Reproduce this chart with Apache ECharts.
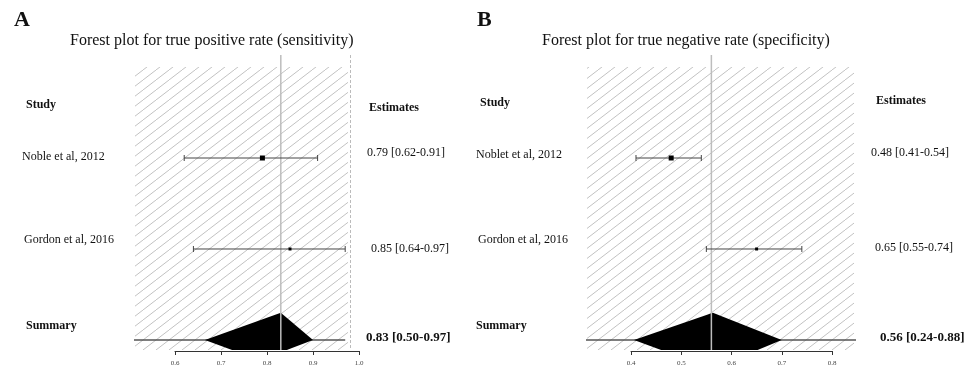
<!DOCTYPE html>
<html>
<head>
<meta charset="utf-8">
<script src="https://cdn.jsdelivr.net/npm/echarts@6/dist/echarts.min.js"></script>
<style>
  html, body { margin: 0; padding: 0; background: #fff; }
  #chart { width: 969px; height: 368px; }
</style>
</head>
<body>
<div id="chart"></div>
<script>
// panel A - true positive rate
const studiesA = ['Noble et al, 2012', 'Gordon et al, 2016'];
const estA = [0.79, 0.85];
const lowA = [0.62, 0.64];
const highA = [0.91, 0.97];
const summaryA = [0.83, 0.50, 0.97]; // est, low, high
// diamond outline: [x, row]
const diamondA = [[0.665, 3], [0.83, 2.7], [0.90, 3], [0.843, 3.11], [0.724, 3.11]];
const hatchA = [0.513, 0.976];

// panel B - true negative rate
const studiesB = ['Noblet et al, 2012', 'Gordon et al, 2016'];
const estB = [0.48, 0.65];
const lowB = [0.41, 0.55];
const highB = [0.54, 0.74];
const summaryB = [0.56, 0.24, 0.88];
const diamondB = [[0.406, 3], [0.563, 2.7], [0.70, 3], [0.652, 3.11], [0.46, 3.11]];
const hatchB = [0.3125, 0.8438];

const SERIF = '"Liberation Serif", "DejaVu Serif", serif';
const pointSize = [5, 3];
const ROW_MIN = -0.132, ROW_MAX = 3.11;

// hatch tile
const tile = document.createElement('canvas');
tile.width = 13; tile.height = 10;
const tctx = tile.getContext('2d');
tctx.strokeStyle = '#c2c2c2';
tctx.lineWidth = 1;
tctx.beginPath();
tctx.moveTo(-13, 20);
tctx.lineTo(26, -10);
tctx.stroke();

const fmt = (v) => v.toFixed(2);
const estText = (e, l, h) => `${fmt(e)} [${fmt(l)}-${fmt(h)}]`;

const chart = echarts.init(document.getElementById('chart'));

function panel(p) {
  // p.g = index of data grid, axis grid is p.g + 1
  const studyData = p.est.map((e, i) => [p.low[i], p.high[i], e, i + 1, pointSize[i]]);
  const series = [
    {
      // hatched region
      type: 'line', xAxisIndex: p.g, yAxisIndex: p.g, data: [], z: 0, silent: true,
      markArea: {
        silent: true,
        itemStyle: { color: { image: tile, repeat: 'repeat' } },
        data: [[{ xAxis: p.hatch[0], yAxis: 0 }, { xAxis: p.hatch[1], yAxis: ROW_MAX }]]
      },
      markLine: p.dashed ? {
        silent: true, symbol: 'none', label: { show: false },
        lineStyle: { color: '#bbb', type: [3, 2], width: 1 },
        data: [{ xAxis: p.hatch[1] }]
      } : undefined
    },
    {
      // summary CI line
      type: 'line', xAxisIndex: p.g, yAxisIndex: p.g, z: 3, silent: true,
      symbol: 'none', lineStyle: { color: '#555', width: 1.5 },
      data: [[p.summary[1], 3], [p.summary[2], 3]]
    },
    {
      // diamond
      type: 'custom', xAxisIndex: p.g, yAxisIndex: p.g, z: 4, silent: true,
      data: [0],
      renderItem: (params, api) => ({
        type: 'polygon',
        shape: { points: p.diamond.map((d) => api.coord(d)) },
        style: { fill: '#000' }
      })
    },
    {
      // summary estimate line
      type: 'line', xAxisIndex: p.g, yAxisIndex: p.g, z: 5, silent: true,
      symbol: 'none', lineStyle: { color: '#bdbdbd', width: 1.5 },
      data: [[p.summary[0], ROW_MIN], [p.summary[0], ROW_MAX]]
    },
    {
      // study error bars
      type: 'custom', xAxisIndex: p.g, yAxisIndex: p.g, z: 6, silent: true,
      data: studyData,
      renderItem: (params, api) => {
        const a = api.coord([api.value(0), api.value(3)]);
        const b = api.coord([api.value(1), api.value(3)]);
        const c = api.coord([api.value(2), api.value(3)]);
        const s = api.value(4);
        const st = { stroke: '#444', lineWidth: 1 };
        return {
          type: 'group',
          children: [
            { type: 'line', shape: { x1: a[0], y1: a[1], x2: b[0], y2: b[1] }, style: st },
            { type: 'line', shape: { x1: a[0], y1: a[1] - 3, x2: a[0], y2: a[1] + 3 }, style: st },
            { type: 'line', shape: { x1: b[0], y1: b[1] - 3, x2: b[0], y2: b[1] + 3 }, style: st },
            { type: 'rect', shape: { x: c[0] - s / 2, y: c[1] - s / 2, width: s, height: s }, style: { fill: '#000' } }
          ]
        };
      }
    }
  ];
  return series;
}

const pA = { g: 0, est: estA, low: lowA, high: highA, summary: summaryA, diamond: diamondA, hatch: hatchA, dashed: true };
const pB = { g: 2, est: estB, low: lowB, high: highB, summary: summaryB, diamond: diamondB, hatch: hatchB, dashed: false };

const hiddenY = { type: 'value', show: false, inverse: true, min: ROW_MIN, max: ROW_MAX };
const axisY = { type: 'value', show: false, min: 0, max: 1 };
const dataX = (min, max) => ({ type: 'value', show: false, min, max, splitLine: { show: false } });
const tickX = (min, max) => ({
  type: 'value', min, max, interval: 0.1,
  axisLine: { show: true, lineStyle: { color: '#333', width: 1 } },
  axisTick: { show: true, length: 4, lineStyle: { color: '#333' } },
  splitLine: { show: false },
  axisLabel: { fontSize: 7, color: '#444', margin: 9, fontFamily: SERIF, formatter: (v) => v.toFixed(1) }
});

function txt(x, y, text, size, bold) {
  return {
    type: 'text', x, y, silent: true,
    style: {
      text, fill: '#111', font: `${bold ? 'bold ' : ''}${size}px ${SERIF}`,
      textVerticalAlign: 'middle'
    }
  };
}

chart.setOption({
  animation: false,
  grid: [
    { left: 135, top: 55, width: 224, height: 295 },
    { left: 175, top: 350, width: 184, height: 1 },
    { left: 587, top: 55, width: 267, height: 295 },
    { left: 631, top: 350, width: 201, height: 1 }
  ],
  xAxis: [
    dataX(0.513, 1.0), { ...tickX(0.6, 1.0), gridIndex: 1 },
    { ...dataX(0.3125, 0.8438), gridIndex: 2 }, { ...tickX(0.4, 0.8), gridIndex: 3 }
  ],
  yAxis: [
    hiddenY, { ...axisY, gridIndex: 1 },
    { ...hiddenY, gridIndex: 2 }, { ...axisY, gridIndex: 3 }
  ],
  series: [...panel(pA), ...panel(pB)],
  graphic: [
    txt(14, 20, 'A', 22, true),
    txt(70, 41, 'Forest plot for true positive rate (sensitivity)', 16, false),
    txt(26, 105, 'Study', 12, true),
    txt(22, 157, studiesA[0], 12, false),
    txt(24, 240, studiesA[1], 12, false),
    txt(26, 326, 'Summary', 12, true),
    txt(369, 108, 'Estimates', 12, true),
    txt(367, 153, estText(estA[0], lowA[0], highA[0]), 12, false),
    txt(371, 249, estText(estA[1], lowA[1], highA[1]), 12, false),
    txt(366, 338, estText(...summaryA), 13, true),

    txt(477, 20, 'B', 22, true),
    txt(542, 41, 'Forest plot for true negative rate (specificity)', 16, false),
    txt(480, 103, 'Study', 12, true),
    txt(476, 155, studiesB[0], 12, false),
    txt(478, 240, studiesB[1], 12, false),
    txt(476, 326, 'Summary', 12, true),
    txt(876, 101, 'Estimates', 12, true),
    txt(871, 153, estText(estB[0], lowB[0], highB[0]), 12, false),
    txt(875, 248, estText(estB[1], lowB[1], highB[1]), 12, false),
    txt(880, 338, estText(...summaryB), 13, true)
  ]
});
</script>
</body>
</html>
